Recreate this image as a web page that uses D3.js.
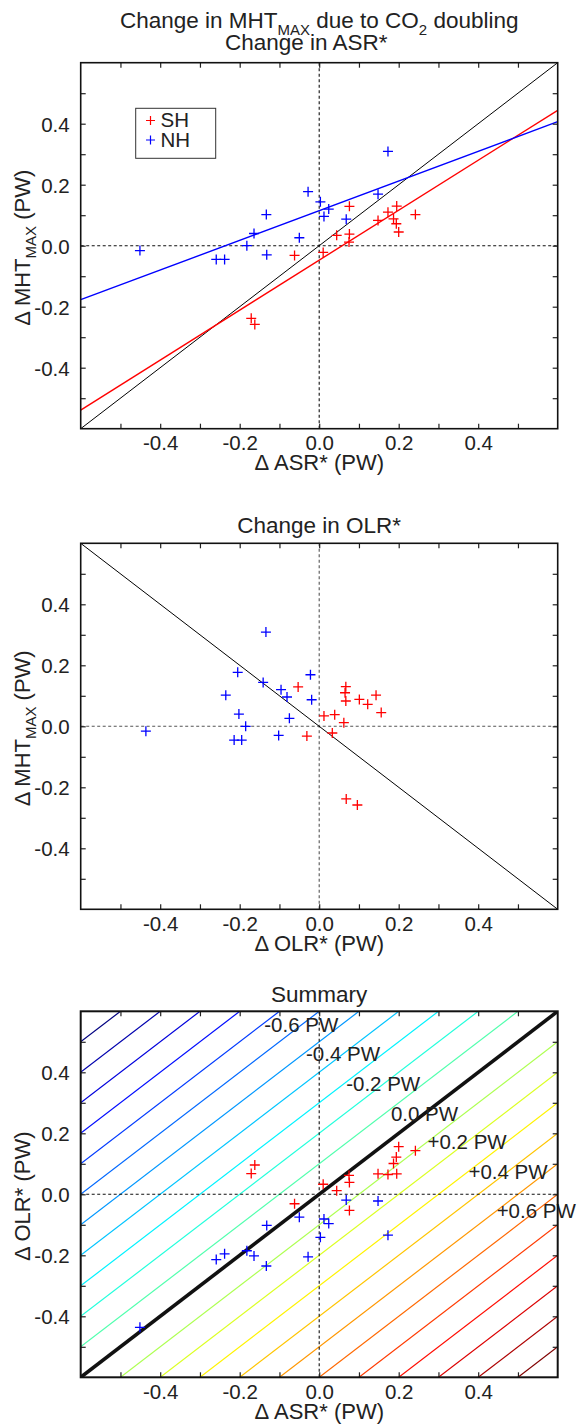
<!DOCTYPE html>
<html>
<head>
<meta charset="utf-8">
<script src="https://d3js.org/d3.v7.min.js"></script>
<style>
  body { margin: 0; background: #fff; }
  text { font-family: "Liberation Sans", Arial, sans-serif; fill: #222; }
</style>
</head>
<body>
<div id="chart"></div>
<script>
// southern hemisphere models: change in ASR*, OLR*, MHT max (PW)
var shASR = [-0.171, -0.162, -0.062, 0.010, 0.044, 0.076, 0.076, 0.075, 0.148, 0.173, 0.195, 0.187, 0.194, 0.200, 0.242];
var shOLR = [0.068, 0.096, -0.031, 0.033, 0.012, -0.053, 0.039, 0.062, 0.067, 0.065, 0.067, 0.101, 0.122, 0.156, 0.143];
var shMHT = [-0.238, -0.258, -0.032, -0.022, 0.034, 0.129, 0.038, 0.012, 0.083, 0.110, 0.130, 0.088, 0.072, 0.045, 0.102];

// northern hemisphere models
var nhASR = [-0.451, -0.259, -0.238, -0.182, -0.164, -0.133, -0.132, -0.050, -0.028, 0.003, 0.012, 0.024, 0.068, 0.148, 0.173];
var nhOLR = [-0.436, -0.214, -0.195, -0.185, -0.202, -0.235, -0.102, -0.075, -0.205, -0.141, -0.081, -0.096, -0.019, -0.022, -0.134];
var nhMHT = [-0.016, -0.045, -0.045, 0.000, 0.040, 0.102, -0.030, 0.026, 0.177, 0.144, 0.096, 0.120, 0.087, 0.169, 0.309];

var domain = [-0.6, 0.6];
var tickLabels = [-0.4, -0.2, 0, 0.2, 0.4];
var minorTicks = [-0.5, -0.4, -0.3, -0.2, -0.1, 0, 0.1, 0.2, 0.3, 0.4, 0.5];

// summary panel: contours of dASR* - dOLR*
var contourLevels = [-1.1, -1.0, -0.9, -0.8, -0.7, -0.6, -0.5, -0.4, -0.3, -0.2, -0.1, 0,
                     0.1, 0.2, 0.3, 0.4, 0.5, 0.6, 0.7, 0.8, 0.9, 1.0, 1.1];
var labelLevels = [-0.6, -0.4, -0.2, 0, 0.2, 0.4, 0.6];
var labelNames = ["-0.6 PW", "-0.4 PW", "-0.2 PW", "0.0 PW", "+0.2 PW", "+0.4 PW", "+0.6 PW"];
var labelASR = [-0.045, 0.060, 0.161, 0.265, 0.372, 0.475, 0.546];

var width = 577, height = 1427;
var left = 80.7, plotW = 477, plotH = 366;
var tops = [62.7, 543.3, 1011.3];
var big = "22.5px", sub = "15px";

var svg = d3.select("#chart").append("svg")
    .attr("width", width)
    .attr("height", height);

var x = d3.scaleLinear().domain(domain).range([left, left + plotW]);

function jet(t) {
    var c = function (v) { return Math.max(0, Math.min(1, v)); };
    var r = c(1.5 - Math.abs(4 * t - 3));
    var g = c(1.5 - Math.abs(4 * t - 2));
    var b = c(1.5 - Math.abs(4 * t - 1));
    return d3.rgb(r * 255, g * 255, b * 255).toString();
}

function fmt(d) { return d3.format(".1f")(d).replace("\u2212", "-"); }

function makePanel(i, xTitle, yTitle) {
    var top = tops[i];
    var y = d3.scaleLinear().domain(domain).range([top + plotH, top]);
    var g = svg.append("g");

    g.append("clipPath").attr("id", "clip" + i)
        .append("rect")
        .attr("x", left).attr("y", top)
        .attr("width", plotW).attr("height", plotH);

    var inner = g.append("g").attr("clip-path", "url(#clip" + i + ")");

    // minor ticks on all four sides, pointing in
    g.append("g").attr("transform", "translate(0," + (top + plotH) + ")")
        .call(d3.axisBottom(x).tickValues(minorTicks).tickSize(-5).tickFormat(""));
    g.append("g").attr("transform", "translate(0," + top + ")")
        .call(d3.axisTop(x).tickValues(minorTicks).tickSize(-5).tickFormat(""));
    g.append("g").attr("transform", "translate(" + left + ",0)")
        .call(d3.axisLeft(y).tickValues(minorTicks).tickSize(-5).tickFormat(""));
    g.append("g").attr("transform", "translate(" + (left + plotW) + ",0)")
        .call(d3.axisRight(y).tickValues(minorTicks).tickSize(-5).tickFormat(""));
    g.selectAll(".domain").remove();
    g.selectAll(".tick line").attr("stroke", "#222").attr("stroke-width", 1.2);

    // tick labels
    var xl = g.append("g").attr("transform", "translate(0," + (top + plotH) + ")")
        .call(d3.axisBottom(x).tickValues(tickLabels).tickSize(0).tickPadding(7).tickFormat(fmt));
    var yl = g.append("g").attr("transform", "translate(" + left + ",0)")
        .call(d3.axisLeft(y).tickValues(tickLabels).tickSize(0).tickPadding(11).tickFormat(fmt));
    [xl, yl].forEach(function (a) {
        a.select(".domain").remove();
        a.selectAll("text").style("font-size", "20.5px")
            .style("font-family", "'Liberation Sans', Arial, sans-serif").attr("fill", "#222");
    });
    yl.selectAll("text").attr("dy", "0.36em");

    g.append("text")
        .attr("x", x(0)).attr("y", top + plotH + 41.5)
        .attr("text-anchor", "middle").style("font-size", "22px")
        .text(xTitle);

    var yt = g.append("text")
        .attr("transform", "translate(30," + (top + plotH / 2 + 2) + ") rotate(-90)")
        .attr("text-anchor", "middle").style("font-size", "22px");
    yTitle(yt);

    return { g: g, inner: inner, y: y, top: top };
}

function zeroLines(p, col) {
    p.inner.append("line")
        .attr("x1", x(0)).attr("x2", x(0)).attr("y1", p.top).attr("y2", p.top + plotH)
        .attr("stroke", col).attr("stroke-width", 1.1).attr("stroke-dasharray", "3,2.5");
    p.inner.append("line")
        .attr("x1", left).attr("x2", left + plotW).attr("y1", p.y(0)).attr("y2", p.y(0))
        .attr("stroke", col).attr("stroke-width", 1.1).attr("stroke-dasharray", "3,2.5");
}

function pluses(p, xs, ys, col) {
    p.g.selectAll(null)
        .data(xs.map(function (v, k) { return [v, ys[k]]; }))
        .enter().append("path")
        .attr("d", function (d) {
            var cx = x(d[0]), cy = p.y(d[1]);
            return "M" + (cx - 5) + "," + cy + "H" + (cx + 5) + "M" + cx + "," + (cy - 5) + "V" + (cy + 5);
        })
        .attr("stroke", col).attr("stroke-width", 1.3).attr("fill", "none");
}

function frame(p, w) {
    p.g.append("rect")
        .attr("x", left).attr("y", p.top).attr("width", plotW).attr("height", plotH)
        .attr("fill", "none").attr("stroke", "#111").attr("stroke-width", w);
}

function fitLine(xs, ys) {
    var mx = d3.mean(xs), my = d3.mean(ys);
    var sxy = d3.sum(xs, function (v, k) { return (v - mx) * (ys[k] - my); });
    var sxx = d3.sum(xs, function (v) { return (v - mx) * (v - mx); });
    var b = sxy / sxx;
    return function (v) { return my + b * (v - mx); };
}

function mhtLabel(t) {
    t.append("tspan").text("\u0394 MHT");
    t.append("tspan").text("MAX").style("font-size", sub).attr("dy", 6);
    t.append("tspan").text(" (PW)").attr("dy", -6);
}

// ---- panel 1: MHT vs ASR*
var p1 = makePanel(0, "\u0394 ASR* (PW)", mhtLabel);
zeroLines(p1, "#111");
var line1 = d3.line().x(function (d) { return x(d[0]); }).y(function (d) { return p1.y(d[1]); });
p1.inner.append("path").attr("d", line1([[-0.6, -0.6], [0.6, 0.6]]))
    .attr("stroke", "#000").attr("stroke-width", 1).attr("fill", "none");
var fSH = fitLine(shASR, shMHT), fNH = fitLine(nhASR, nhMHT);
p1.inner.append("path").attr("d", line1(domain.map(function (v) { return [v, fSH(v)]; })))
    .attr("stroke", "#ff0000").attr("stroke-width", 1.4).attr("fill", "none");
p1.inner.append("path").attr("d", line1(domain.map(function (v) { return [v, fNH(v)]; })))
    .attr("stroke", "#0000ff").attr("stroke-width", 1.4).attr("fill", "none");
pluses(p1, shASR, shMHT, "#ff0000");
pluses(p1, nhASR, nhMHT, "#0000ff");
frame(p1, 1.6);

// legend
var lg = p1.g.append("g");
lg.append("rect").attr("x", 135.7).attr("y", 108.3).attr("width", 80).attr("height", 50)
    .attr("fill", "#fff").attr("stroke", "#333").attr("stroke-width", 1);
[["SH", "#ff0000"], ["NH", "#0000ff"]].forEach(function (e, k) {
    var cy = 120.5 + k * 19.5;
    lg.append("path").attr("d", "M146," + cy + "H155M150.5," + (cy - 4.5) + "V" + (cy + 4.5))
        .attr("stroke", e[1]).attr("stroke-width", 1.2);
    lg.append("text").attr("x", 160.5).attr("y", cy + 6.8).style("font-size", "20.5px").text(e[0]);
});

// ---- panel 2: MHT vs OLR*
var p2 = makePanel(1, "\u0394 OLR* (PW)", mhtLabel);
zeroLines(p2, "#555");
var line2 = d3.line().x(function (d) { return x(d[0]); }).y(function (d) { return p2.y(d[1]); });
p2.inner.append("path").attr("d", line2([[-0.6, 0.6], [0.6, -0.6]]))
    .attr("stroke", "#000").attr("stroke-width", 1).attr("fill", "none");
pluses(p2, shOLR, shMHT, "#ff0000");
pluses(p2, nhOLR, nhMHT, "#0000ff");
frame(p2, 1.6);

// ---- panel 3: summary, OLR* vs ASR*
var p3 = makePanel(2, "\u0394 ASR* (PW)", function (t) { t.text("\u0394 OLR* (PW)"); });
var line3 = d3.line().x(function (d) { return x(d[0]); }).y(function (d) { return p3.y(d[1]); });
var cExt = d3.extent(contourLevels);
p3.inner.selectAll(null).data(contourLevels.filter(function (c) { return c !== 0; }))
    .enter().append("path")
    .attr("d", function (c) { return line3([[-1.3, -1.3 - c], [1.3, 1.3 - c]]); })
    .attr("stroke", function (c) { return jet((c - cExt[0]) / (cExt[1] - cExt[0])); })
    .attr("stroke-width", 1.2).attr("fill", "none");
zeroLines(p3, "#111");
p3.inner.append("path").attr("d", line3([[-0.6, -0.6], [0.6, 0.6]]))
    .attr("stroke", "#111").attr("stroke-width", 3.6).attr("fill", "none");
pluses(p3, shASR, shOLR, "#ff0000");
pluses(p3, nhASR, nhOLR, "#0000ff");
p3.g.selectAll(null).data(labelLevels).enter().append("text")
    .attr("x", function (c, k) { return x(labelASR[k]); })
    .attr("y", function (c, k) { return p3.y(labelASR[k] - c); })
    .attr("dy", "0.35em").attr("text-anchor", "middle").style("font-size", "20.5px")
    .text(function (c, k) { return labelNames[k]; });
frame(p3, 2);

// titles
var t1 = svg.append("text").attr("x", x(0)).attr("y", 28.3).attr("text-anchor", "middle").style("font-size", big);
t1.append("tspan").text("Change in MHT");
t1.append("tspan").text("MAX").style("font-size", sub).attr("dy", 6.5);
t1.append("tspan").text(" due to CO").attr("dy", -6.5);
t1.append("tspan").text("2").style("font-size", sub).attr("dy", 6.5);
t1.append("tspan").text(" doubling").attr("dy", -6.5);
svg.append("text").attr("x", x(0) - 13).attr("y", 50.3).attr("text-anchor", "middle").style("font-size", big)
    .text("Change in ASR*");
svg.append("text").attr("x", x(0)).attr("y", 532.5).attr("text-anchor", "middle").style("font-size", big)
    .text("Change in OLR*");
svg.append("text").attr("x", x(0)).attr("y", 1001.5).attr("text-anchor", "middle").style("font-size", big)
    .text("Summary");
</script>
</body>
</html>
